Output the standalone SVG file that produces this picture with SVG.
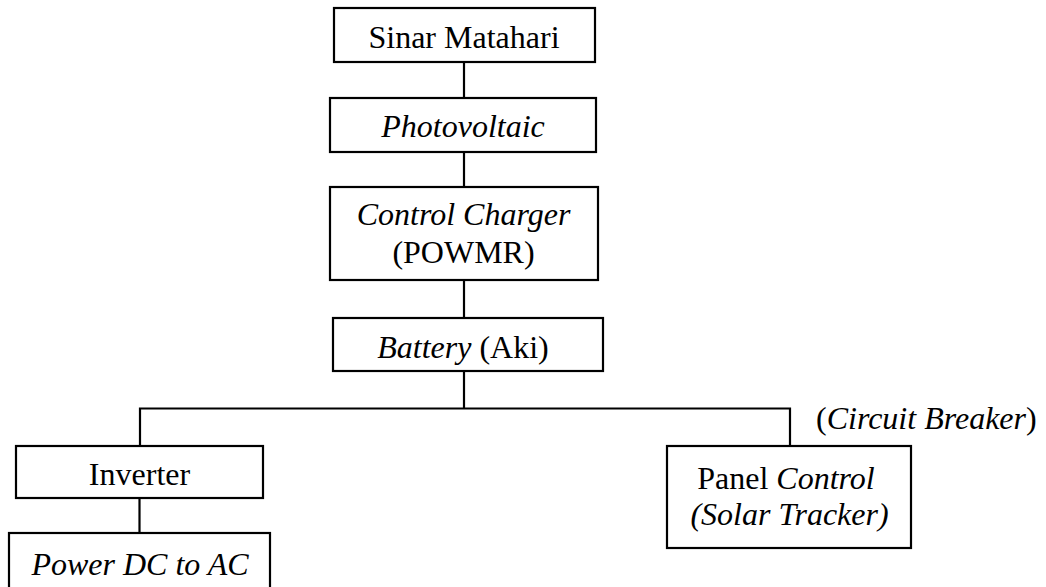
<svg xmlns="http://www.w3.org/2000/svg" width="1046" height="587" viewBox="0 0 1046 587">
<style>
.box{fill:#fff;stroke:#000;stroke-width:2.2}
.ln{fill:none;stroke:#000;stroke-width:2.2}
</style>
<rect width="1046" height="587" fill="#fff"/>
<g id="connectors">
<line class="ln" x1="464" y1="62" x2="464" y2="98"/>
<line class="ln" x1="464" y1="152" x2="464" y2="187"/>
<line class="ln" x1="464" y1="280" x2="464" y2="318"/>
<line class="ln" x1="464" y1="371" x2="464" y2="408.5"/>
<polyline class="ln" points="140,446 140,408.5 790,408.5 790,446"/>
<line class="ln" x1="139.5" y1="498" x2="139.5" y2="533"/>
</g>
<g font-family="Liberation Serif" font-size="32" fill="#000">
<g id="sinar">
<rect class="box" x="334" y="8" width="261" height="54"/>
<text text-anchor="middle" x="464" y="48">Sinar Matahari</text>
</g>
<g id="photovoltaic">
<rect class="box" x="330" y="98" width="266" height="54"/>
<text text-anchor="middle" font-style="italic" x="463" y="137">Photovoltaic</text>
</g>
<g id="controlcharger">
<rect class="box" x="330" y="187" width="268" height="93"/>
<text text-anchor="middle" font-style="italic" x="463.5" y="225">Control Charger</text>
<text text-anchor="middle" x="463.5" y="263">(POWMR)</text>
</g>
<g id="battery">
<rect class="box" x="333" y="318" width="270" height="53"/>
<text text-anchor="middle" x="463" y="358"><tspan font-style="italic">Battery</tspan> (Aki)</text>
</g>
<g id="inverter">
<rect class="box" x="16" y="446" width="247" height="52"/>
<text text-anchor="middle" x="139.5" y="485">Inverter</text>
</g>
<g id="powerdc">
<rect class="box" x="9" y="533" width="261" height="70"/>
<text text-anchor="middle" font-style="italic" x="140" y="575">Power DC to AC</text>
</g>
<g id="panel">
<rect class="box" x="667" y="446" width="244" height="102"/>
<text text-anchor="middle" x="786" y="489">Panel <tspan font-style="italic">Control</tspan></text>
<text text-anchor="middle" font-style="italic" x="789.5" y="525">(Solar Tracker)</text>
</g>
<g id="cb-label">
<text x="816" y="429">(<tspan font-style="italic">Circuit Breaker</tspan>)</text>
</g>
</g>
</svg>
